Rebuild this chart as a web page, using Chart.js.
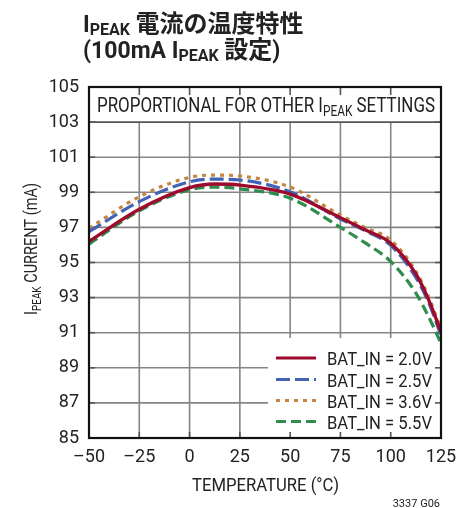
<!DOCTYPE html>
<html><head><meta charset="utf-8">
<script src="https://cdn.jsdelivr.net/npm/chart.js@4.4.1/dist/chart.umd.min.js"></script>
<style>html,body{margin:0;padding:0;background:#fff;}canvas{display:block;}</style>
</head><body>
<canvas id="c" width="473" height="508"></canvas>
<script>
// ---- data ----
const temps = [-50, -25, 0, 12.5, 25, 50, 75, 87.5, 100, 112.5, 118.75, 125];
const bat20 = [96.2, 98.03, 99.26, 99.47, 99.41, 98.9, 97.55, 96.85, 96.1, 94.35, 92.9, 91.05];
const bat25 = [96.76, 98.47, 99.6, 99.75, 99.7, 99.03, 97.48, 96.8, 95.98, 94.15, 92.75, 90.85];
const bat36 = [96.95, 98.75, 99.85, 99.98, 99.93, 99.3, 97.7, 96.98, 96.28, 94.5, 93.07, 91.2];
const bat55 = [96.05, 97.95, 99.15, 99.3, 99.2, 98.66, 97.0, 96.1, 95.06, 93.26, 91.93, 90.4];
const seriesNames = ['BAT_IN = 2.0V', 'BAT_IN = 2.5V', 'BAT_IN = 3.6V', 'BAT_IN = 5.5V'];
const xTickValues = [-50, -25, 0, 25, 50, 75, 100, 125];
const xTickLabels = ['\u201350', '\u201325', '0', '25', '50', '75', '100', '125'];
const yTickValues = [85, 87, 89, 91, 93, 95, 97, 99, 101, 103, 105];
const yTickLabels = ['85', '87', '89', '91', '93', '95', '97', '99', '101', '103', '105'];

const NARROW = "'Liberation Sans Narrow', 'Roboto', sans-serif";
const CJK = "'Noto Sans CJK JP', sans-serif";
const colors = ['#9c0a2c', '#4262b4', '#c8833e', '#2f8c4c'];
const dashes = [[], [14, 5], [4, 5], [10, 5]];

function pts(arr) { return temps.map((t, i) => ({ x: t, y: arr[i] })); }

function txt(ctx, s, x, y, font, color, fitW) {
  ctx.save();
  ctx.font = font; ctx.fillStyle = color || '#222';
  ctx.textBaseline = 'alphabetic'; ctx.textAlign = 'left';
  const w = ctx.measureText(s).width;
  let sx = 1;
  if (fitW) sx = fitW / w;
  ctx.translate(x, y); ctx.scale(sx, 1);
  ctx.fillText(s, 0, 0);
  ctx.restore();
  return w * sx;
}
function runs(ctx, list, x, y, color) {
  let cx = x;
  for (const r of list) {
    ctx.font = r[1]; ctx.fillStyle = color || '#222';
    ctx.textBaseline = 'alphabetic'; ctx.textAlign = 'left';
    ctx.fillText(r[0], cx, y + (r[2] || 0));
    cx += ctx.measureText(r[0]).width;
  }
  return cx - x;
}
function runsWidth(ctx, list) {
  let w = 0;
  for (const r of list) { ctx.font = r[1]; w += ctx.measureText(r[0]).width; }
  return w;
}

const decor = {
  id: 'decor',
  beforeDatasetsDraw(chart) {
    const ctx = chart.ctx, a = chart.chartArea, xs = chart.scales.x, ys = chart.scales.y;
    ctx.save();
    ctx.strokeStyle = '#858585'; ctx.lineWidth = 1.6;
    const y103 = ys.getPixelForValue(103);
    yTickValues.forEach(v => {
      if (v <= 85 || v >= 103) return;
      const y = ys.getPixelForValue(v);
      ctx.beginPath(); ctx.moveTo(a.left, y); ctx.lineTo(a.right, y); ctx.stroke();
    });
    xTickValues.forEach(v => {
      if (v <= -50 || v >= 125) return;
      const x = xs.getPixelForValue(v);
      ctx.beginPath(); ctx.moveTo(x, y103); ctx.lineTo(x, a.bottom); ctx.stroke();
    });
    ctx.strokeStyle = '#555'; ctx.lineWidth = 1.6;
    ctx.beginPath(); ctx.moveTo(a.left, y103); ctx.lineTo(a.right, y103); ctx.stroke();
    ctx.fillStyle = '#fff';
    ctx.fillRect(268, 338, a.right - 268, a.bottom - 338);
    ctx.strokeStyle = '#555'; ctx.lineWidth = 1.6;
    const tl = 6;
    xTickValues.forEach(v => {
      const x = xs.getPixelForValue(v);
      ctx.beginPath(); ctx.moveTo(x, a.bottom); ctx.lineTo(x, a.bottom - tl); ctx.stroke();
      ctx.beginPath(); ctx.moveTo(x, a.top); ctx.lineTo(x, a.top + tl + 2); ctx.stroke();
    });
    yTickValues.forEach(v => {
      const y = ys.getPixelForValue(v);
      ctx.beginPath(); ctx.moveTo(a.right, y); ctx.lineTo(a.right - tl, y); ctx.stroke();
      ctx.beginPath(); ctx.moveTo(a.left, y); ctx.lineTo(a.left + tl, y); ctx.stroke();
    });
    ctx.restore();
  },
  afterDatasetsDraw(chart) {
    const ctx = chart.ctx, a = chart.chartArea;
    ctx.save();
    const rowY = [358, 379.5, 400.5, 421.5];
    chart.data.datasets.forEach((ds, i) => {
      ctx.strokeStyle = ds.borderColor; ctx.lineWidth = 3.2;
      ctx.setLineDash(ds.borderDash || []);
      ctx.beginPath(); ctx.moveTo(276, rowY[i]); ctx.lineTo(316, rowY[i]); ctx.stroke();
      ctx.setLineDash([]);
      txt(ctx, ds.label, 327, rowY[i] + 7, '19px ' + NARROW, '#222', 105);
    });
    const hdr = [['PROPORTIONAL FOR OTHER I', '20px ' + NARROW, 0], ['PEAK', '14px ' + NARROW, 4], [' SETTINGS', '20px ' + NARROW, 0]];
    const hw = runsWidth(ctx, hdr);
    ctx.save(); ctx.translate(97, 112); ctx.scale(338 / hw, 1); runs(ctx, hdr, 0, 0, '#222'); ctx.restore();
    ctx.strokeStyle = '#111'; ctx.lineWidth = 2.2;
    ctx.strokeRect(a.left, a.top, a.right - a.left, a.bottom - a.top);
    const L1 = [['I', 'bold 23px ' + NARROW, 0], ['PEAK', 'bold 16px ' + NARROW, 3], [' ', 'bold 22px ' + NARROW, 0], ['電流の温度特性', 'bold 24px ' + CJK, 0]];
    runs(ctx, L1, 83, 32, '#222');
    const L2 = [['(100mA ', 'bold 23px ' + NARROW, 0], ['I', 'bold 23px ' + NARROW, 0], ['PEAK', 'bold 16px ' + NARROW, 3], [' ', 'bold 22px ' + NARROW, 0], ['設定', 'bold 24px ' + CJK, 0], [')', 'bold 23px ' + NARROW, 0]];
    runs(ctx, L2, 83, 58, '#222');
    txt(ctx, 'TEMPERATURE (\u00B0C)', 192, 491, '19px ' + NARROW, '#222', 147);
    const yt = [['I', '19px ' + NARROW, 0], ['PEAK', '13px ' + NARROW, 4], [' CURRENT (mA)', '19px ' + NARROW, 0]];
    const yw = runsWidth(ctx, yt);
    ctx.save(); ctx.translate(37, 249); ctx.rotate(-Math.PI / 2); ctx.scale(132 / yw, 1);
    runs(ctx, yt, -yw / 2, 0, '#222'); ctx.restore();
    ctx.font = '11px ' + NARROW;
    const fn = '3337 G06';
    const fw = ctx.measureText(fn).width;
    txt(ctx, fn, 440 - fw, 507, '11px ' + NARROW, '#222');
    ctx.restore();
  }
};

const datasets = [bat20, bat25, bat36, bat55].map((arr, i) => ({
  label: seriesNames[i], data: pts(arr), borderColor: colors[i], backgroundColor: colors[i],
  borderWidth: i === 0 ? 3.4 : 3.2, borderDash: dashes[i], pointRadius: 0, tension: 0.4,
  cubicInterpolationMode: 'monotone', fill: false
}));

new Chart(document.getElementById('c'), {
  type: 'line',
  data: { datasets },
  options: {
    responsive: false, devicePixelRatio: 1, animation: false,
    layout: { padding: { left: 0, right: 32, top: 87, bottom: 0 } },
    plugins: { legend: { display: false }, tooltip: { enabled: false }, title: { display: false } },
    scales: {
      x: {
        type: 'linear', min: -50, max: 125,
        afterFit(s) { s.height = 70; },
        afterBuildTicks(s) { s.ticks = xTickValues.map(v => ({ value: v })); },
        ticks: { font: { family: NARROW, size: 18 }, color: '#222', padding: 9, maxRotation: 0,
          callback: (v) => xTickLabels[xTickValues.indexOf(v)] },
        grid: { display: false, drawTicks: false }, border: { display: false }
      },
      y: {
        min: 85, max: 105,
        afterFit(s) { s.width = 89; },
        afterBuildTicks(s) { s.ticks = yTickValues.map(v => ({ value: v })); },
        ticks: { font: { family: NARROW, size: 18 }, color: '#222', padding: 10,
          callback: (v) => yTickLabels[yTickValues.indexOf(v)] },
        grid: { display: false, drawTicks: false }, border: { display: false }
      }
    }
  },
  plugins: [decor]
});
</script>
</body></html>
